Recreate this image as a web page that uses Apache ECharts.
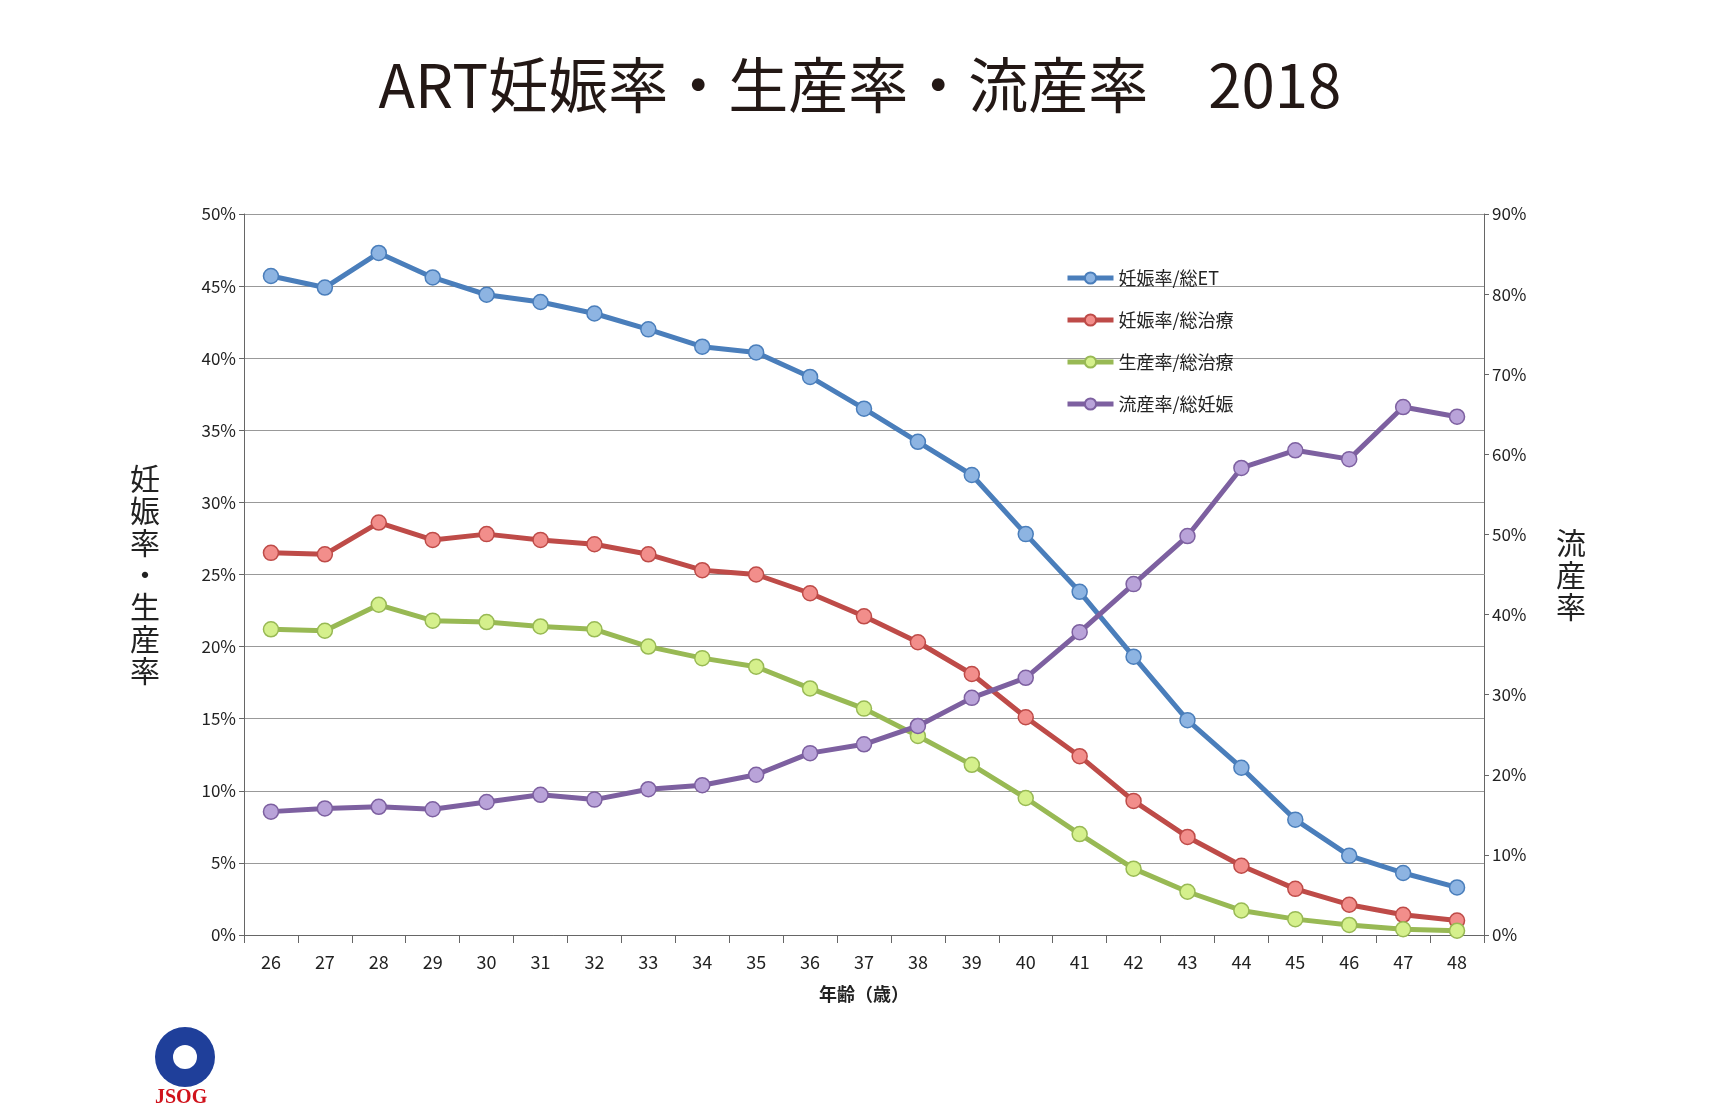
<!DOCTYPE html>
<html><head><meta charset="utf-8">
<script src="https://cdn.jsdelivr.net/npm/echarts@6/dist/echarts.min.js"></script>
<style>html,body{margin:0;background:#fff}#c{width:1720px;height:1120px}</style>
</head><body><div id="c"></div>
<script>
const ages = ['26','27','28','29','30','31','32','33','34','35','36','37','38','39','40','41','42','43','44','45','46','47','48'];
const pregET = [45.7,44.9,47.3,45.6,44.4,43.9,43.1,42.0,40.8,40.4,38.7,36.5,34.2,31.9,27.8,23.8,19.3,14.9,11.6,8.0,5.5,4.3,3.3];
const pregTx = [26.5,26.4,28.6,27.4,27.8,27.4,27.1,26.4,25.3,25.0,23.7,22.1,20.3,18.1,15.1,12.4,9.3,6.8,4.8,3.2,2.1,1.4,1.0];
const birthTx = [21.2,21.1,22.9,21.8,21.7,21.4,21.2,20.0,19.2,18.6,17.1,15.7,13.8,11.8,9.5,7.0,4.6,3.0,1.7,1.1,0.7,0.4,0.3];
const miscarriage = [15.4,15.8,16.0,15.7,16.6,17.5,16.9,18.2,18.7,20.0,22.7,23.8,26.1,29.6,32.1,37.8,43.8,49.8,58.3,60.5,59.4,65.9,64.7];

const font = '"Noto Sans CJK JP", sans-serif';
function line(name, data, color, fill, yIdx) {
  return {name, type:'line', data, yAxisIndex:yIdx, symbol:'circle', symbolSize:15,
    lineStyle:{color, width:5}, itemStyle:{color:fill, borderColor:color, borderWidth:1.5}};
}
const chart = echarts.init(document.getElementById('c'));
chart.setOption({
  animation:false,
  textStyle:{fontFamily:font},
  title:{text:'ART妊娠率・生産率・流産率　2018', left:'center', top:50,
    textStyle:{fontSize:60, fontWeight:'normal', color:'#231815', fontFamily:font}},
  legend:{orient:'vertical', left:1060, top:264, itemGap:24, itemWidth:46, itemHeight:14,
    textStyle:{fontSize:18, color:'#222'},
    data:['妊娠率/総ET','妊娠率/総治療','生産率/総治療','流産率/総妊娠'].map(n => ({name:n, lineStyle:{width:5}}))},
  grid:{left:244, right:236, top:214, bottom:185},
  xAxis:{type:'category', data:ages, name:'年齢（歳）', nameLocation:'middle', nameGap:50,
    nameTextStyle:{fontSize:18, fontWeight:'bold', color:'#222'},
    axisLine:{lineStyle:{color:'#666'}}, axisTick:{show:true, length:8, lineStyle:{color:'#666'}},
    axisLabel:{fontSize:18, color:'#222', margin:18}},
  yAxis:[
    {type:'value', min:0, max:50, interval:5, name:'妊\n娠\n率\n・\n生\n産\n率', nameLocation:'middle', nameGap:84, nameRotate:0,
     nameTextStyle:{fontSize:30, color:'#222', lineHeight:32},
     axisLabel:{formatter:'{value}%', fontSize:17, color:'#222'},
     axisLine:{show:true, lineStyle:{color:'#666'}}, axisTick:{show:true, lineStyle:{color:'#666'}},
     splitLine:{lineStyle:{color:'#999', width:1.2}}},
    {type:'value', min:0, max:90, interval:10, name:'流\n産\n率', nameLocation:'middle', nameGap:72, nameRotate:0,
     nameTextStyle:{fontSize:30, color:'#222', lineHeight:32},
     axisLabel:{formatter:'{value}%', fontSize:17, color:'#222'},
     axisLine:{show:true, lineStyle:{color:'#666'}}, axisTick:{show:true, lineStyle:{color:'#666'}},
     splitLine:{show:false}}
  ],
  series:[
    line('妊娠率/総ET', pregET, '#4a7ebb', '#8db4e2', 0),
    line('妊娠率/総治療', pregTx, '#be4b48', '#f28e8b', 0),
    line('生産率/総治療', birthTx, '#98b954', '#d5f08c', 0),
    line('流産率/総妊娠', miscarriage, '#7d60a0', '#b9a3d9', 1)
  ],
  graphic:[
    {type:'circle', shape:{cx:185, cy:1057, r:30}, style:{fill:'#1f3f9a'}},
    {type:'circle', shape:{cx:185, cy:1057, r:12}, style:{fill:'#fff'}},
    {type:'text', left:155, top:1088, style:{text:'JSOG', fill:'#d0121b', font:'bold 20px "Liberation Serif"'}}
  ]
});
</script></body></html>
